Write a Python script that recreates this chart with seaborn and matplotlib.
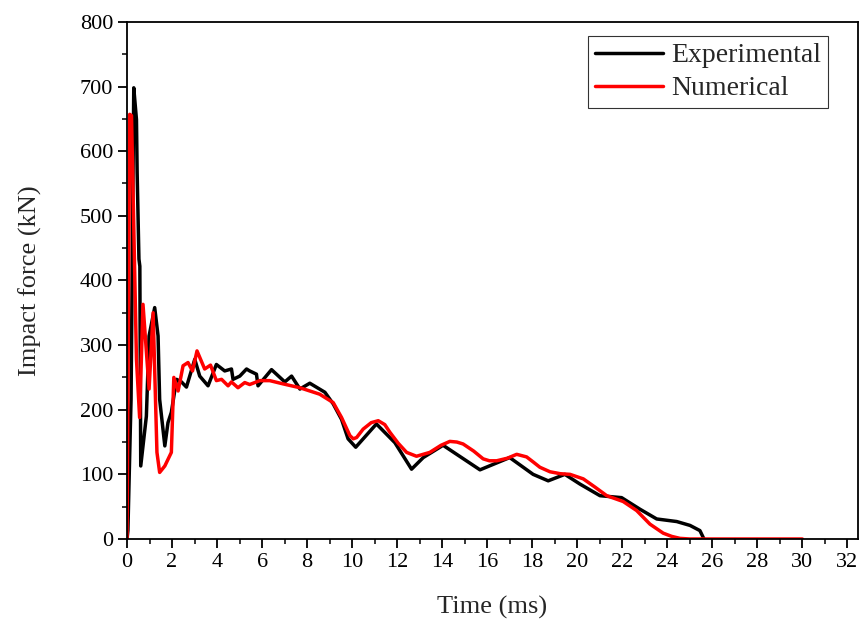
import matplotlib
matplotlib.use("Agg")
import matplotlib.pyplot as plt
import matplotlib.ticker as ticker
import seaborn as sns
import pandas as pd

# Experimental curve (time in ms, force in kN)
exp_time = [0.0, 0.04, 0.15, 0.18, 0.30, 0.42, 0.45, 0.53, 0.57, 0.61, 0.86, 0.98,
            1.23, 1.38, 1.45, 1.68, 1.82, 1.97, 2.20, 2.42, 2.64, 3.01, 3.23, 3.60,
            3.97, 4.34, 4.64, 4.71, 5.01, 5.31, 5.45, 5.75, 5.82, 6.42, 7.01, 7.31,
            7.68, 8.12, 8.79, 9.16, 9.53, 9.82, 10.16, 11.08, 11.90, 12.64, 13.16,
            14.04, 15.68, 17.00, 18.04, 18.71, 19.45, 20.12, 21.01, 21.97, 22.79,
            23.53, 24.42, 25.01, 25.45, 25.63]
exp_force = [0, 13, 175, 216, 698, 649, 567, 433, 422, 113, 190, 314,
             358, 314, 216, 144, 180, 196, 247, 243, 235, 278, 252, 237,
             270, 260, 263, 247, 252, 263, 260, 255, 237, 262, 243, 252,
             232, 241, 227, 209, 185, 155, 142, 178, 149, 108, 126,
             145, 107, 126, 100, 90, 100, 85, 67, 64, 46,
             31, 27, 21, 13, 0]

# Numerical curve
num_time = [0.0, 0.12, 0.20, 0.42, 0.56, 0.71, 0.98, 1.16, 1.33, 1.45, 1.68, 1.97,
            2.08, 2.27, 2.49, 2.71, 2.91, 3.11, 3.45, 3.71, 3.97, 4.20, 4.49, 4.64,
            4.93, 5.23, 5.45, 5.90, 6.34, 6.93, 7.68, 8.56, 9.16, 9.53, 9.90, 10.05,
            10.20, 10.49, 10.85, 11.16, 11.45, 11.68, 12.05, 12.42, 12.86, 13.45,
            13.95, 14.34, 14.65, 14.93, 15.40, 15.82, 16.10, 16.42, 16.90, 17.31,
            17.75, 18.05, 18.34, 18.79, 19.25, 19.68, 20.27, 20.80, 21.31, 22.04,
            22.64, 23.23, 23.82, 24.20, 24.56, 25.00, 30.00]
num_force = [0, 657, 655, 278, 188, 363, 232, 350, 134, 103, 113, 134,
             250, 229, 268, 273, 260, 291, 263, 269, 245, 247, 237, 243,
             234, 242, 239, 245, 245, 240, 234, 224, 211, 188, 160, 155,
             157, 170, 180, 183, 177, 165, 148, 134, 128, 134,
             145, 151, 150, 147, 136, 124, 121, 121, 125, 131,
             127, 119, 111, 104, 101, 100, 93, 80, 67, 58,
             44, 23, 9, 4, 1, 0, 0]

sns.set_theme(style="ticks")
plt.rcParams["font.family"] = ["Liberation Serif", "DejaVu Serif"]

fig = plt.figure(figsize=(8.64, 6.25), dpi=100)
ax = fig.add_axes([0.147, 0.1376, 0.846, 0.8274])

exp_df = pd.DataFrame({"Time": exp_time, "Force": exp_force})
num_df = pd.DataFrame({"Time": num_time, "Force": num_force})

sns.lineplot(data=exp_df, x="Time", y="Force", color="black", linewidth=2.5,
             label="Experimental", estimator=None, sort=False, ax=ax)
sns.lineplot(data=num_df, x="Time", y="Force", color="#ff0000", linewidth=2.5,
             label="Numerical", estimator=None, sort=False, ax=ax)

ax.set_xlim(0, 32.47)
ax.set_ylim(0, 800)
ax.xaxis.set_major_locator(ticker.MultipleLocator(2))
ax.xaxis.set_minor_locator(ticker.MultipleLocator(1))
ax.yaxis.set_major_locator(ticker.MultipleLocator(100))
ax.yaxis.set_minor_locator(ticker.MultipleLocator(50))
ax.tick_params(which="major", direction="out", length=6.5, width=1.3,
               labelsize=16, colors="black", top=False, right=False)
ax.tick_params(which="minor", direction="out", length=3.5, width=1.3,
               top=False, right=False)

for side in ["top", "right", "left", "bottom"]:
    ax.spines[side].set_visible(True)
    ax.spines[side].set_linewidth(1.3)
    ax.spines[side].set_color("black")

ax.set_xlabel("Time (ms)", fontsize=19, labelpad=17)
ax.set_ylabel("Impact force (kN)", fontsize=19, labelpad=27)

leg = ax.legend(loc="upper right", bbox_to_anchor=(0.959, 0.973), borderaxespad=0,
                fontsize=20, frameon=True, fancybox=False, handlelength=2.45,
                handletextpad=0.3, borderpad=0.25, labelspacing=0.28)
leg.get_frame().set_edgecolor("black")
leg.get_frame().set_linewidth(0.8)

fig.savefig("out.png", dpi=100)
